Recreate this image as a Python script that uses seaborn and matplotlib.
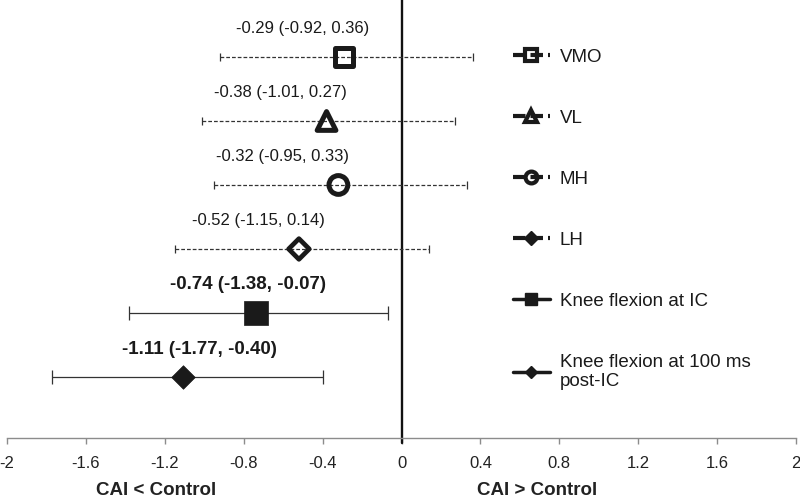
import numpy as np
import pandas as pd
import matplotlib
matplotlib.use("Agg")
import matplotlib.pyplot as plt
import seaborn as sns
from matplotlib.lines import Line2D

# ---------------- data ----------------
labels = ["VMO", "VL", "MH", "LH", "Knee flexion at IC",
          "Knee flexion at 100 ms\npost-IC"]
estimates = [-0.29, -0.38, -0.32, -0.52, -0.74, -1.11]
ci_low = [-0.92, -1.01, -0.95, -1.15, -1.38, -1.77]
ci_high = [0.36, 0.27, 0.33, 0.14, -0.07, -0.40]
significant = [False, False, False, False, True, True]
xtick_values = [-2, -1.6, -1.2, -0.8, -0.4, 0, 0.4, 0.8, 1.2, 1.6, 2]
xtick_labels = ["-2", "-1.6", "-1.2", "-0.8", "-0.4", "0", "0.4", "0.8",
                "1.2", "1.6", "2"]
side_labels = ["CAI < Control", "CAI > Control"]
side_label_x = [-1.245, 0.687]

# ---------------- style ----------------
sns.set_style("white")
plt.rcParams["font.family"] = ["Liberation Sans", "DejaVu Sans"]
INK = "#1a1a1a"
BAR = "#333333"
AXC = "#8c8c8c"

# marker styles per row (plot marker, size, filled, edge width)
point_styles = [
    dict(marker="s", size=13.0, filled=False, ew=3.6),
    dict(marker="^", size=13.5, filled=False, ew=3.6),
    dict(marker="o", size=13.5, filled=False, ew=3.6),
    dict(marker="D", size=10.5, filled=False, ew=3.4),
    dict(marker="s", size=17.5, filled=True, ew=0.5),
    dict(marker="D", size=12.0, filled=True, ew=0.5),
]
legend_styles = [
    dict(marker="s", ms=8, filled=False, mew=3.0, ls=(0, (3, 1.2)), lw=3),
    dict(marker="^", ms=9, filled=False, mew=3.0, ls=(0, (3, 1.2)), lw=3),
    dict(marker="o", ms=8.5, filled=False, mew=3.0, ls=(0, (3, 1.2)), lw=3),
    dict(marker="D", ms=7.5, filled=True, mew=1, ls=(0, (3, 1.2)), lw=3),
    dict(marker="s", ms=8, filled=True, mew=1, ls="-", lw=2.5),
    dict(marker="D", ms=6, filled=True, mew=1, ls="-", lw=2.5),
]
label_dx_px = [-42, -46, -56, -40, -8, 17]
label_dy_px = 28

# ---------------- figure ----------------
fig = plt.figure(figsize=(8, 5.03), dpi=100)
ax = fig.add_axes([7 / 800, 65 / 503, 789 / 800, 438 / 503])

n = len(labels)
ypos = np.arange(n, 0, -1)
df = pd.DataFrame(dict(label=labels, est=estimates, lo=ci_low, hi=ci_high,
                       y=ypos, sig=significant))

# zero line
ax.axvline(0, color="#111111", lw=1.7, ymin=-5 / 438, ymax=1,
           clip_on=False, zorder=1)

for i, row in df.iterrows():
    ls = "-" if row.sig else (0, (3, 1.6))
    eb = ax.errorbar(x=[row.est], y=[row.y],
                     xerr=[[row.est - row.lo], [row.hi - row.est]],
                     fmt="none", ecolor=BAR, elinewidth=0.9,
                     capsize=(5 if row.sig else 3), capthick=0.9, zorder=2)
    eb[2][0].set_linestyle(ls)
    st = point_styles[i]
    sns.scatterplot(data=df.iloc[[i]], x="est", y="y", ax=ax,
                    marker=st["marker"], s=st["size"] ** 2,
                    facecolor=(INK if st["filled"] else "none"),
                    edgecolor=INK, linewidth=st["ew"], zorder=3,
                    legend=False)
    txt = f"{row.est:.2f} ({row.lo:.2f}, {row.hi:.2f})"
    ax.annotate(txt, xy=(row.est, row.y),
                xytext=(label_dx_px[i], label_dy_px),
                textcoords="offset pixels", ha="center", va="center",
                fontsize=(13.5 if row.sig else 12),
                fontweight=("bold" if row.sig else "normal"),
                color=INK)

# legend
handles = []
for st in legend_styles:
    handles.append(Line2D([], [], color=INK, lw=st["lw"], ls=st["ls"],
                          marker=st["marker"], ms=st["ms"],
                          mfc=(INK if st["filled"] else "none"),
                          mec=INK, mew=st["mew"]))
leg = ax.legend(handles, labels, loc="upper left",
                bbox_to_anchor=(0.641, 0.889), frameon=False, fontsize=13.5,
                handlelength=2.0, handletextpad=0.5, labelspacing=2.34,
                borderpad=0, borderaxespad=0, labelcolor=INK)

# axes styling
ax.set_xlim(-2, 2)
ax.set_ylim(0.047, 6.89)
ax.set_xticks(xtick_values)
ax.set_xticklabels(xtick_labels)
ax.set_yticks([])
ax.set_xlabel("")
ax.set_ylabel("")
for s in ["left", "top", "right"]:
    ax.spines[s].set_visible(False)
ax.spines["bottom"].set_color(AXC)
ax.spines["bottom"].set_linewidth(1.0)
ax.tick_params(axis="x", direction="out", length=4, width=1, color=AXC,
               labelsize=12, labelcolor="#222222", pad=9, bottom=True)

for lab, xv in zip(side_labels, side_label_x):
    ax.text(xv, -0.121, lab, transform=ax.get_xaxis_transform(),
            ha="center", va="center", fontsize=13.5, fontweight="bold",
            color="#222222")

fig.savefig("out.png", dpi=100)
